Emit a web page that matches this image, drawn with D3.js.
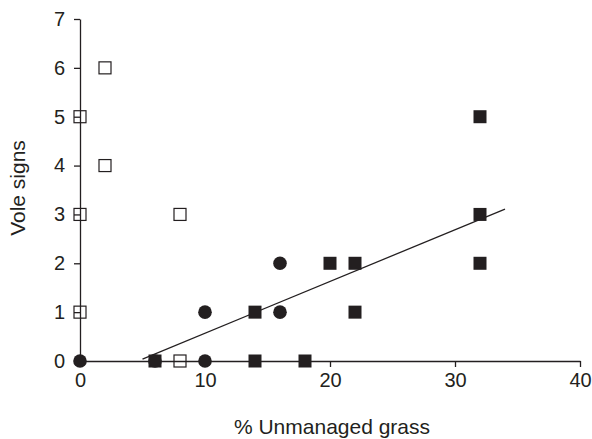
<!DOCTYPE html>
<html>
<head>
<meta charset="utf-8">
<style>
  body { margin: 0; background: #fff; }
  svg text { font-family: "Liberation Sans", Arial, sans-serif; fill: #231f20; }
</style>
</head>
<body>
<script src="https://cdn.jsdelivr.net/npm/d3@7"></script>
<script>
// open squares
var openX = [0, 0, 0, 2, 2, 8, 8];
var openY = [5, 3, 1, 6, 4, 3, 0];
// filled circles
var circX = [0, 6, 10, 10, 16, 16];
var circY = [0, 0, 1, 0, 2, 1];
// filled squares
var sqX = [6, 14, 14, 18, 20, 22, 22, 32, 32, 32];
var sqY = [0, 1, 0, 0, 2, 2, 1, 5, 3, 2];
// fitted line end points
var lineX = [5, 34];
var lineY = [0.04, 3.11];

var xTicks = [0, 10, 20, 30, 40];
var yTicks = [0, 1, 2, 3, 4, 5, 6, 7];

var ink = "#231f20";
var width = 592, height = 439;
var margin = { top: 19, right: 12, bottom: 78, left: 80 };

var x = d3.scaleLinear().domain([0, 40]).range([margin.left, 580]);
var y = d3.scaleLinear().domain([0, 7]).range([361, margin.top]);

var svg = d3.select("body").append("svg")
    .attr("width", width)
    .attr("height", height);

var gx = svg.append("g")
    .attr("transform", "translate(0," + y(0) + ")")
    .call(d3.axisBottom(x).tickValues(xTicks).tickFormat(d3.format("d"))
        .tickSize(6).tickPadding(4).tickSizeOuter(0));
gx.selectAll("text").style("font-size", "20px").attr("dy", "0.8em");

var gy = svg.append("g")
    .attr("transform", "translate(" + x(0) + ",0)")
    .call(d3.axisLeft(y).tickValues(yTicks).tickFormat(d3.format("d"))
        .tickSize(6).tickPadding(9).tickSizeOuter(0));
gy.selectAll("text").style("font-size", "20px");

svg.selectAll(".domain, .tick line").attr("stroke", ink).attr("stroke-width", 1.3);
svg.selectAll(".tick text").attr("fill", ink);

// regression line
svg.append("path")
    .datum(d3.zip(lineX, lineY))
    .attr("fill", "none")
    .attr("stroke", ink)
    .attr("stroke-width", 1.3)
    .attr("d", d3.line().x(function (d) { return x(d[0]); }).y(function (d) { return y(d[1]); }));

var s = 12;
svg.append("g").selectAll("rect")
    .data(d3.zip(openX, openY))
    .enter().append("rect")
    .attr("x", function (d) { return x(d[0]) - s / 2; })
    .attr("y", function (d) { return y(d[1]) - s / 2; })
    .attr("width", s)
    .attr("height", s)
    .attr("fill", "none")
    .attr("stroke", ink)
    .attr("stroke-width", 1.2);

svg.append("g").selectAll("circle")
    .data(d3.zip(circX, circY))
    .enter().append("circle")
    .attr("cx", function (d) { return x(d[0]); })
    .attr("cy", function (d) { return y(d[1]); })
    .attr("r", 6.8)
    .attr("fill", ink);

var fs = 13;
svg.append("g").selectAll("rect")
    .data(d3.zip(sqX, sqY))
    .enter().append("rect")
    .attr("x", function (d) { return x(d[0]) - fs / 2; })
    .attr("y", function (d) { return y(d[1]) - fs / 2; })
    .attr("width", fs)
    .attr("height", fs)
    .attr("fill", ink);

svg.append("text")
    .attr("x", 332)
    .attr("y", 434)
    .attr("text-anchor", "middle")
    .style("font-size", "21px")
    .text("% Unmanaged grass");

svg.append("text")
    .attr("transform", "translate(25,188) rotate(-90)")
    .attr("text-anchor", "middle")
    .style("font-size", "21px")
    .text("Vole signs");
</script>
</body>
</html>
